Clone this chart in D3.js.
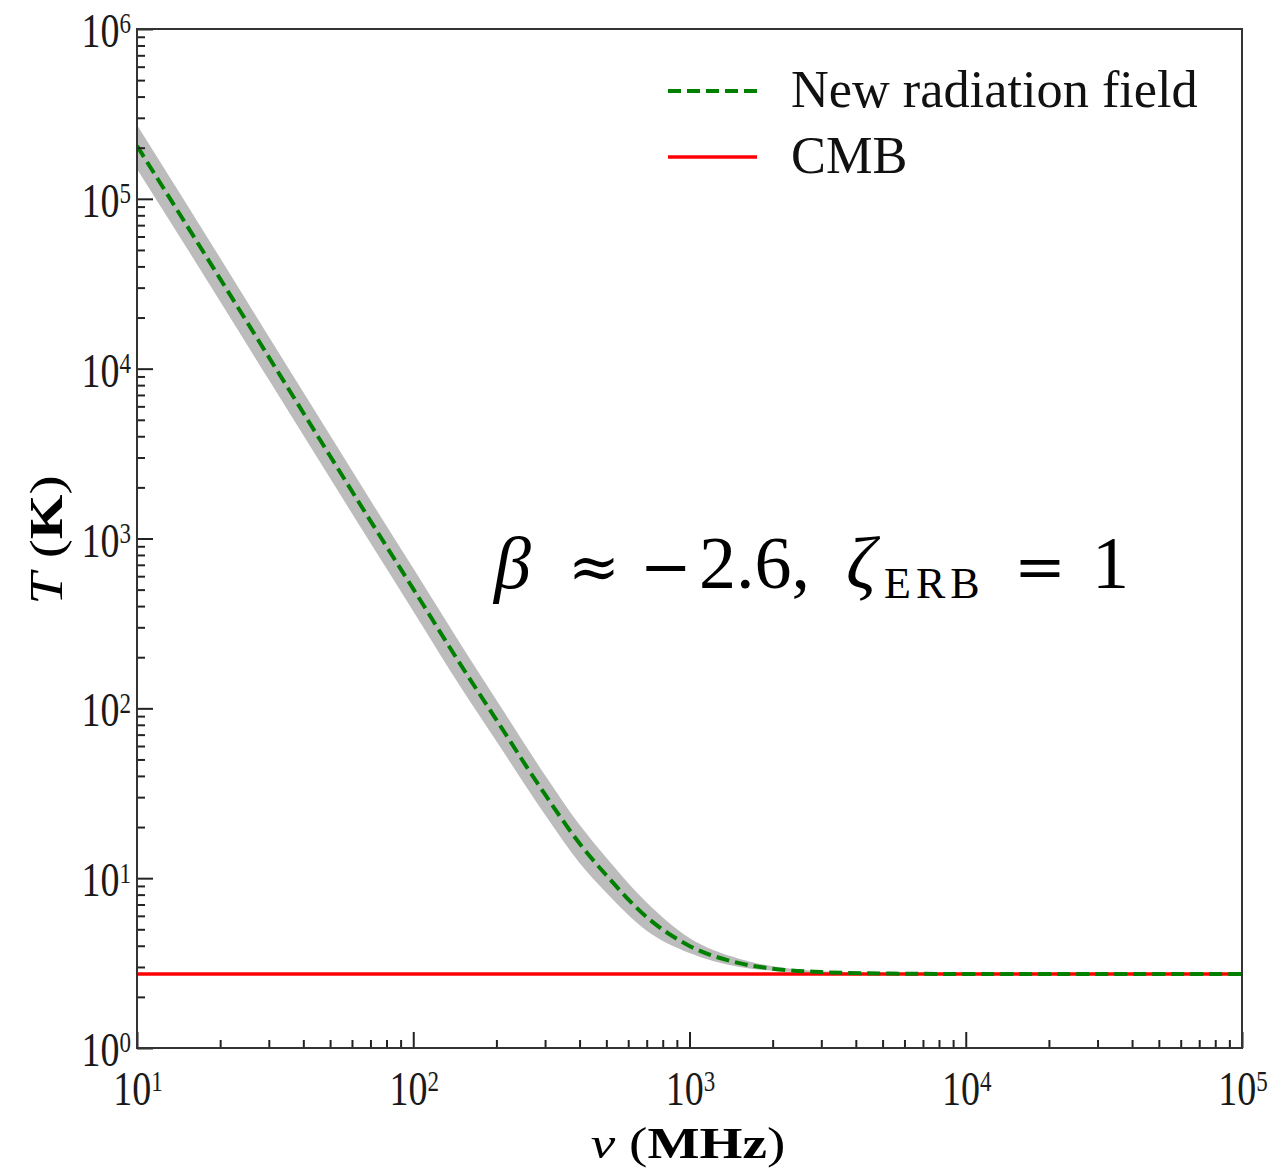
<!DOCTYPE html>
<html>
<head>
<meta charset="utf-8">
<script src="https://cdn.jsdelivr.net/npm/d3@7"></script>
<style>
  body { margin: 0; background: #fff; }
</style>
</head>
<body>
<div id="chart"></div>
<script>
// frequencies (MHz) sampled along the curve
var freq = [10, 20, 30, 50, 70, 100, 150, 200, 300, 400, 500, 700, 1000, 1500, 2000, 3000, 5000, 10000, 30000, 100000];
// brightness temperature of the new radiation field (K)
var tempNew = [205000, 33800, 11700, 3060, 1270, 505, 176, 85.5, 31.1, 16.0, 10.4, 5.9, 3.99, 3.17, 2.93, 2.80, 2.745, 2.728, 2.725, 2.725];
// grey uncertainty band
var bandHi = [272000, 44800, 15400, 4050, 1680, 667, 232, 112, 40.4, 20.6, 13.2, 7.2, 4.45, 3.37, 3.03, 2.83, 2.752, 2.729, 2.725, 2.725];
var bandLo = [150000, 24900, 8600, 2260, 940, 373, 130, 64.0, 23.6, 12.3, 8.2, 4.9, 3.62, 3.01, 2.85, 2.77, 2.74, 2.727, 2.725, 2.725];
// CMB temperature (K)
var cmbTemp = 2.725;

var xTicks = [1e1, 1e2, 1e3, 1e4, 1e5];
var yTicks = [1e0, 1e1, 1e2, 1e3, 1e4, 1e5, 1e6];
var legendNames = ["New radiation field", "CMB"];

var serif = "'Liberation Serif', 'Times New Roman', Tinos, 'DejaVu Serif', serif";

function init() {
  var width = 1288, height = 1173;
  var margin = {top: 29, right: 46, bottom: 125, left: 137};
  var w = width - margin.left - margin.right;
  var h = height - margin.top - margin.bottom;

  var svg = d3.select("#chart").append("svg")
    .attr("width", width)
    .attr("height", height)
    .attr("font-family", serif)
    .style("font-family", serif);

  var g = svg.append("g")
    .attr("transform", "translate(" + margin.left + "," + margin.top + ")");

  var x = d3.scaleLog().domain([1e1, 1e5]).range([0, w]);
  var y = d3.scaleLog().domain([1e0, 1e6]).range([h, 0]);

  g.append("defs").append("clipPath").attr("id", "clip")
    .append("rect").attr("width", w).attr("height", h);

  var rows = freq.map(function(f, i) {
    return {f: f, t: tempNew[i], hi: bandHi[i], lo: bandLo[i]};
  });

  var plot = g.append("g").attr("clip-path", "url(#clip)");

  // band
  plot.append("path")
    .datum(rows)
    .attr("fill", "#bcbcbc")
    .attr("d", d3.area()
      .x(function(d) { return x(d.f); })
      .y0(function(d) { return y(d.lo); })
      .y1(function(d) { return y(d.hi); })
      .curve(d3.curveMonotoneX));

  // CMB
  plot.append("line")
    .attr("x1", x(1e1)).attr("x2", x(1e5))
    .attr("y1", y(cmbTemp)).attr("y2", y(cmbTemp))
    .attr("stroke", "#ff0000")
    .attr("stroke-width", 3.5);

  // new radiation field
  plot.append("path")
    .datum(rows)
    .attr("fill", "none")
    .attr("stroke", "#008000")
    .attr("stroke-width", 4)
    .attr("stroke-dasharray", "13,6")
    .attr("d", d3.line()
      .x(function(d) { return x(d.f); })
      .y(function(d) { return y(d.t); })
      .curve(d3.curveMonotoneX));

  // minor ticks
  var xMinor = [], yMinor = [];
  xTicks.slice(0, -1).forEach(function(t) { for (var k = 2; k < 10; k++) xMinor.push(t * k); });
  yTicks.slice(0, -1).forEach(function(t) { for (var k = 2; k < 10; k++) yMinor.push(t * k); });

  function styleAxis(sel) {
    sel.select(".domain").remove();
    sel.selectAll(".tick line").attr("stroke", "#222").attr("stroke-width", 2);
  }

  g.append("g").attr("transform", "translate(0," + h + ")")
    .call(d3.axisBottom(x).tickValues(xTicks).tickSize(-16).tickFormat(""))
    .call(styleAxis);
  g.append("g").attr("transform", "translate(0," + h + ")")
    .call(d3.axisBottom(x).tickValues(xMinor).tickSize(-8).tickFormat(""))
    .call(styleAxis);
  g.append("g")
    .call(d3.axisLeft(y).tickValues(yTicks).tickSize(-16).tickFormat(""))
    .call(styleAxis);
  g.append("g")
    .call(d3.axisLeft(y).tickValues(yMinor).tickSize(-8).tickFormat(""))
    .call(styleAxis);

  // frame
  g.append("rect")
    .attr("width", w).attr("height", h)
    .attr("fill", "none")
    .attr("stroke", "#333")
    .attr("stroke-width", 2);

  // tick labels as 10^n (tall, narrow like the original)
  function powLabel(sel, v) {
    var e = Math.round(Math.log10(v));
    sel.append("tspan").text("10");
    sel.append("tspan").attr("dy", -10.5).attr("font-size", 23).text(e);
  }

  xTicks.forEach(function(v) {
    g.append("text")
      .attr("transform", "translate(" + (x(v) + 1) + "," + (h + 57) + ") scale(1,1.3)")
      .attr("text-anchor", "middle")
      .attr("font-size", 38)
      .attr("fill", "#1a1a1a")
      .call(powLabel, v);
  });
  yTicks.forEach(function(v) {
    g.append("text")
      .attr("transform", "translate(-6," + (y(v) + 18) + ") scale(1,1.3)")
      .attr("text-anchor", "end")
      .attr("font-size", 38)
      .attr("fill", "#1a1a1a")
      .call(powLabel, v);
  });

  // axis titles
  var xl = svg.append("text")
    .attr("transform", "translate(688,1158) scale(1.15,0.92)")
    .attr("text-anchor", "middle")
    .attr("font-size", 48);
  xl.append("tspan").attr("font-style", "italic").text("ν");
  xl.append("tspan").text(" (");
  xl.append("tspan").attr("font-weight", "bold").text("MHz");
  xl.append("tspan").text(")");

  var yl = svg.append("text")
    .attr("transform", "translate(62,540) rotate(-90) scale(1.2,0.95)")
    .attr("text-anchor", "middle")
    .attr("font-size", 48);
  yl.append("tspan").attr("font-style", "italic").text("T");
  yl.append("tspan").text(" (");
  yl.append("tspan").attr("font-weight", "bold").text("K");
  yl.append("tspan").text(")");

  // legend
  var leg = svg.append("g");
  var legY = [91, 157];
  leg.append("line")
    .attr("x1", 668).attr("x2", 757).attr("y1", legY[0]).attr("y2", legY[0])
    .attr("stroke", "#008000").attr("stroke-width", 4).attr("stroke-dasharray", "13,6");
  leg.append("line")
    .attr("x1", 668).attr("x2", 757).attr("y1", legY[1]).attr("y2", legY[1])
    .attr("stroke", "#ff0000").attr("stroke-width", 3.5);
  legendNames.forEach(function(name, i) {
    leg.append("text")
      .attr("transform", "translate(791," + (legY[i] + 16) + ") scale(1.09,1.08)")
      .attr("font-size", 48)
      .attr("fill", "#111")
      .text(name);
  });

  // annotation, pieces spaced like the math layout of the original
  var ann = svg.append("text")
    .attr("y", 588)
    .attr("font-size", 74)
    .attr("fill", "#000");
  ann.append("tspan").attr("x", 494).attr("font-style", "italic").text("β");
  ann.append("tspan").attr("x", 568).attr("font-family", "'DejaVu Serif', serif").attr("font-size", 62).text("≈");
  ann.append("tspan").attr("x", 640).attr("font-family", "'DejaVu Serif', serif").attr("font-size", 62).text("−");
  ann.append("tspan").attr("x", 699).attr("font-family", serif).attr("font-size", 74).text("2.6,");
  ann.append("tspan").attr("x", 846).attr("font-style", "italic").text("ζ");
  ann.append("tspan").attr("x", 884).attr("dy", 10).attr("font-size", 44).attr("letter-spacing", 5).text("ERB");
  ann.append("tspan").attr("x", 1014).attr("dy", -10).attr("font-family", "'DejaVu Serif', serif").attr("font-size", 62).text("=");
  ann.append("tspan").attr("x", 1092).attr("font-family", serif).attr("font-size", 74).text("1");
}
window.addEventListener('load', init, false);
</script>
</body>
</html>
